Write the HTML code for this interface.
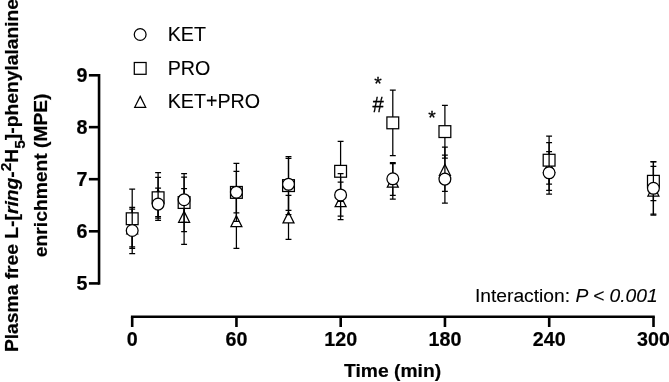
<!DOCTYPE html>
<html lang="en">
<head>
<meta charset="utf-8">
<title>Plasma free L-[ring-2H5]-phenylalanine enrichment</title>
<style>
html,body{margin:0;padding:0;background:#fff;}
body{width:669px;height:382px;overflow:hidden;}
svg{display:block;}
text{font-family:"Liberation Sans",sans-serif;font-size:19.25px;fill:#000;stroke:#000;stroke-width:0.1px;}
.b{font-weight:bold;stroke:#000;stroke-width:0.2px;}
.i{font-style:italic;}
.ax{stroke:#000;stroke-width:2.6;fill:none;}
.d path,.d rect,.d circle{stroke:#000;stroke-width:1.25;fill:none;}
.d .s{fill:#fff;stroke-width:1.25;}
.m{stroke:#000;stroke-width:0.3;}
.ss{font-size:15.5px;}
.t{font-size:19.7px;}
</style>
</head>
<body>
<svg width="669" height="382" viewBox="0 0 669 382">
<rect x="0" y="0" width="669" height="382" fill="#fff"/>
<g class="d">
<path d="M132.20 209.10V246.75M129.25 209.10H135.15M129.25 246.75H135.15"/>
<path class="s" d="M132.20 222.90L137.70 233.80H126.70Z"/>
<path d="M158.10 172.70V216.70M155.15 172.70H161.05M155.15 216.70H161.05"/>
<path class="s" d="M158.10 189.65L163.60 200.55H152.60Z"/>
<path d="M184.10 188.60V244.30M181.15 188.60H187.05M181.15 244.30H187.05"/>
<path class="s" d="M184.10 211.40L189.60 222.30H178.60Z"/>
<path d="M236.40 193.15V248.25M233.45 193.15H239.35M233.45 248.25H239.35"/>
<path class="s" d="M236.40 215.70L241.90 226.60H230.90Z"/>
<path d="M288.50 195.40V239.40M285.55 195.40H291.45M285.55 239.40H291.45"/>
<path class="s" d="M288.50 212.00L294.00 222.90H283.00Z"/>
<path d="M340.60 182.00V219.60M337.65 182.00H343.55M337.65 219.60H343.55"/>
<path class="s" d="M340.60 195.80L346.10 206.70H335.10Z"/>
<path d="M392.80 163.50V199.20M389.85 163.50H395.75M389.85 199.20H395.75"/>
<path class="s" d="M392.80 176.30L398.30 187.20H387.30Z"/>
<path d="M444.90 147.00V191.40M441.95 147.00H447.85M441.95 191.40H447.85"/>
<path class="s" d="M444.90 164.40L450.40 175.30H439.40Z"/>
<path d="M549.10 142.50V190.40M546.15 142.50H552.05M546.15 190.40H552.05"/>
<path class="s" d="M549.10 161.45L554.60 172.35H543.60Z"/>
<path d="M653.40 166.40V214.00M650.45 166.40H656.35M650.45 214.00H656.35"/>
<path class="s" d="M653.40 185.10L658.90 196.00H647.90Z"/>
<path d="M132.20 189.20V248.30M129.25 189.20H135.15M129.25 248.30H135.15"/>
<rect class="s" x="126.30" y="212.85" width="11.8" height="11.8"/>
<path d="M158.10 177.30V218.20M155.15 177.30H161.05M155.15 218.20H161.05"/>
<rect class="s" x="152.20" y="191.85" width="11.8" height="11.8"/>
<path d="M184.10 173.70V231.50M181.15 173.70H187.05M181.15 231.50H187.05"/>
<rect class="s" x="178.20" y="196.60" width="11.8" height="11.8"/>
<path d="M236.40 163.40V221.40M233.45 163.40H239.35M233.45 221.40H239.35"/>
<rect class="s" x="230.50" y="186.50" width="11.8" height="11.8"/>
<path d="M288.50 156.50V214.70M285.55 156.50H291.45M285.55 214.70H291.45"/>
<rect class="s" x="282.60" y="179.70" width="11.8" height="11.8"/>
<path d="M340.60 141.30V201.30M337.65 141.30H343.55M337.65 201.30H343.55"/>
<rect class="s" x="334.70" y="165.40" width="11.8" height="11.8"/>
<path d="M392.80 90.20V155.50M389.85 90.20H395.75M389.85 155.50H395.75"/>
<rect class="s" x="386.90" y="116.95" width="11.8" height="11.8"/>
<path d="M444.90 105.30V158.10M441.95 105.30H447.85M441.95 158.10H447.85"/>
<rect class="s" x="439.00" y="125.70" width="11.8" height="11.8"/>
<path d="M549.10 136.00V184.10M546.15 136.00H552.05M546.15 184.10H552.05"/>
<rect class="s" x="543.20" y="154.30" width="11.8" height="11.8"/>
<path d="M653.40 161.90V200.70M650.45 161.90H656.35M650.45 200.70H656.35"/>
<rect class="s" x="647.50" y="175.40" width="11.8" height="11.8"/>
<path d="M132.20 207.40V253.60M129.25 207.40H135.15M129.25 253.60H135.15"/>
<circle class="s" cx="132.20" cy="230.50" r="5.9"/>
<path d="M158.10 188.00V220.30M155.15 188.00H161.05M155.15 220.30H161.05"/>
<circle class="s" cx="158.10" cy="204.10" r="5.9"/>
<path d="M184.10 177.10V222.30M181.15 177.10H187.05M181.15 222.30H187.05"/>
<circle class="s" cx="184.10" cy="199.70" r="5.9"/>
<path d="M236.40 171.40V212.85M233.45 171.40H239.35M233.45 212.85H239.35"/>
<circle class="s" cx="236.40" cy="192.20" r="5.9"/>
<path d="M288.50 158.40V210.40M285.55 158.40H291.45M285.55 210.40H291.45"/>
<circle class="s" cx="288.50" cy="184.30" r="5.9"/>
<path d="M340.60 173.60V216.20M337.65 173.60H343.55M337.65 216.20H343.55"/>
<circle class="s" cx="340.60" cy="194.95" r="5.9"/>
<path d="M392.80 162.50V195.40M389.85 162.50H395.75M389.85 195.40H395.75"/>
<circle class="s" cx="392.80" cy="178.80" r="5.9"/>
<path d="M444.90 155.20V203.00M441.95 155.20H447.85M441.95 203.00H447.85"/>
<circle class="s" cx="444.90" cy="179.10" r="5.9"/>
<path d="M549.10 151.50V194.10M546.15 151.50H552.05M546.15 194.10H552.05"/>
<circle class="s" cx="549.10" cy="172.80" r="5.9"/>
<path d="M653.40 161.50V215.20M650.45 161.50H656.35M650.45 215.20H656.35"/>
<circle class="s" cx="653.40" cy="188.30" r="5.9"/>
</g>
<path class="ax" d="M99.05 74.00V284.70"/>
<path class="ax" d="M88.9 75.30H99.05"/>
<text class="b t" transform="translate(87.5 81.60) scale(1 1.04)" text-anchor="end">9</text>
<path class="ax" d="M88.9 127.15H99.05"/>
<text class="b t" transform="translate(87.5 133.85) scale(1 1.04)" text-anchor="end">8</text>
<path class="ax" d="M88.9 179.20H99.05"/>
<text class="b t" transform="translate(87.5 186.10) scale(1 1.04)" text-anchor="end">7</text>
<path class="ax" d="M88.9 231.30H99.05"/>
<text class="b t" transform="translate(87.5 238.20) scale(1 1.04)" text-anchor="end">6</text>
<path class="ax" d="M88.9 283.40H99.05"/>
<text class="b t" transform="translate(87.5 290.40) scale(1 1.04)" text-anchor="end">5</text>
<path class="ax" d="M130.90 316.7H654.80"/>
<path class="ax" d="M132.20 316.7V327"/>
<text class="b t" transform="translate(132.20 346.35) scale(1 1.04)" text-anchor="middle">0</text>
<path class="ax" d="M236.45 316.7V327"/>
<text class="b t" transform="translate(236.45 346.35) scale(1 1.04)" text-anchor="middle">60</text>
<path class="ax" d="M340.70 316.7V327"/>
<text class="b t" transform="translate(340.70 346.35) scale(1 1.04)" text-anchor="middle">120</text>
<path class="ax" d="M444.95 316.7V327"/>
<text class="b t" transform="translate(444.95 346.35) scale(1 1.04)" text-anchor="middle">180</text>
<path class="ax" d="M549.20 316.7V327"/>
<text class="b t" transform="translate(549.20 346.35) scale(1 1.04)" text-anchor="middle">240</text>
<path class="ax" d="M653.50 316.7V327"/>
<text class="b t" transform="translate(653.50 346.35) scale(1 1.04)" text-anchor="middle">300</text>
<g class="d">
<circle class="s" cx="140.17" cy="34.50" r="5.9"/>
<rect class="s" x="134.30" y="62.50" width="11.8" height="11.8"/>
<path class="s" d="M140.20 96.40L145.70 107.30H134.70Z"/>
</g>
<text class="t" transform="translate(167.7 41.1) scale(1 1.04)">KET</text>
<text class="t" transform="translate(167.7 74.6) scale(1 1.04)">PRO</text>
<text class="t" transform="translate(167.7 108.1) scale(1 1.04)">KET+PRO</text>
<text class="m" x="377.9" y="83.6" text-anchor="middle" dy="6.6">*</text>
<text class="m" transform="translate(378.1 111.6) scale(1 1.1)" style="font-size:20.2px" text-anchor="middle">#</text>
<text class="m" x="432.0" y="117.2" text-anchor="middle" dy="6.6">*</text>
<text x="474.9" y="301.9">Interaction: <tspan class="i">P &lt; 0.001</tspan></text>
<text class="b" x="392.6" y="377.3" text-anchor="middle">Time (min)</text>
<text class="b" transform="translate(17.7 175.5) rotate(-90)" text-anchor="middle">Plasma free L-[<tspan class="i">ring</tspan>-<tspan class="ss" dy="-6.7">2</tspan><tspan dy="6.7">H</tspan><tspan class="ss" dy="6.9">5</tspan><tspan dy="-6.9">]-phenylalanine</tspan></text>
<text class="b" transform="translate(46.8 175.3) rotate(-90)" text-anchor="middle">enrichment (MPE)</text>
</svg>
</body>
</html>
